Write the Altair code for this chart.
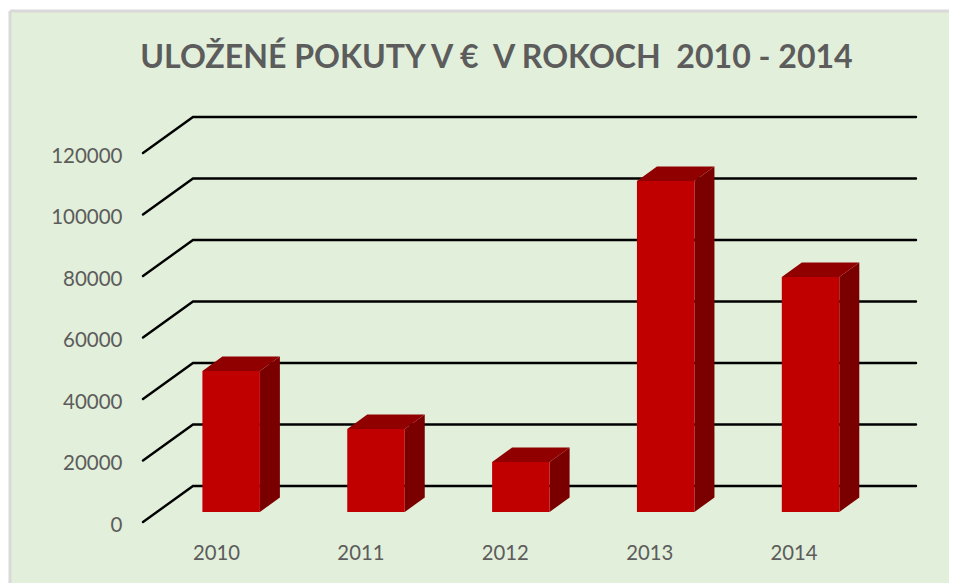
import altair as alt
import pandas as pd

# ---- values
years = [2010, 2011, 2012, 2013, 2014]
fines = [45850, 26990, 16260, 107640, 76420]
grid_values = [0, 20000, 40000, 60000, 80000, 100000, 120000]
title_text = "ULOŽENÉ POKUTY V €\u00a0 V ROKOCH\u00a0 2010 - 2014"

# ---- scale geometry: x in category units, y in euro units
PX_X = 144.4
PX_Y = 325.2
W, H = 939, 572
X_DOMAIN = [(10 - 217) / PX_X, (949 - 217) / PX_X]
Y_DOMAIN = [-(583 - 522) * PX_Y, (522 - 11) * PX_Y]
GREEN, GREY, BORDER = "#E2EFDA", "#5C5C5C", "#D9D9D9"
FONT = "Lato"

# depth of the floor and of the bars, expressed in axis units
floor_dx, floor_dy = 50 / PX_X, 36 * PX_Y
floor_start, floor_end = (143 - 217) / PX_X, (916 - 217) / PX_X
bar_base = 10 * PX_Y
bar_left, bar_right = (202.4 - 217) / PX_X, (259.9 - 217) / PX_X
bar_step = 144.85 / PX_X
bar_dx, bar_dy = 20 / PX_X, 14.6 * PX_Y

grid_rows = []
for v in grid_values:
    grid_rows += [
        dict(v=v, i=0, x=floor_start, y=v),
        dict(v=v, i=1, x=floor_start + floor_dx, y=v + floor_dy),
        dict(v=v, i=2, x=floor_end, y=v + floor_dy),
    ]

front_rows, side_rows, top_rows = [], [], []
for i, (yr, val) in enumerate(zip(years, fines)):
    l, r = i * bar_step + bar_left, i * bar_step + bar_right
    b, t = bar_base, bar_base + val
    front_rows.append(dict(year=yr, x=l, x2=r, y=b, y2=t))
    side_rows += [
        dict(year=yr, x=r, y=b, y2=t),
        dict(year=yr, x=r + bar_dx, y=b + bar_dy, y2=t + bar_dy),
    ]
    top_rows += [
        dict(year=yr, y=t, x=l, x2=r),
        dict(year=yr, y=t + bar_dy, x=l + bar_dx, x2=r + bar_dx),
    ]

x_scale = alt.Scale(domain=X_DOMAIN, nice=False, zero=False)
y_scale = alt.Scale(domain=Y_DOMAIN, nice=False, zero=False)
x_axis = alt.Axis(
    values=list(range(len(years))), labelExpr="datum.value + 2010", title=None,
    grid=False, domain=False, ticks=False, labelFont=FONT, labelFontSize=20.3,
    labelColor=GREY, labelPadding=0, offset=-40, labelOffset=-1,
    labelOverlap=False, labelFlush=False)
y_axis = alt.Axis(
    values=grid_values, format="d", title=None,
    grid=False, domain=False, ticks=False, labelFont=FONT, labelFontSize=20.5,
    labelColor=GREY, labelPadding=0, offset=-112, labelOffset=3.5, labelOverlap=False)
X = alt.X("x:Q", scale=x_scale, axis=x_axis)
Y = alt.Y("y:Q", scale=y_scale, axis=y_axis)

grid = alt.Chart(pd.DataFrame(grid_rows)).mark_line(
    color="#000000", strokeWidth=2.4, strokeCap="round", strokeJoin="miter"
).encode(x=X, y=Y, detail="v:N", order="i:Q")

side = alt.Chart(pd.DataFrame(side_rows)).mark_area(color="#7A0000", interpolate="linear").encode(
    x=X, y=Y, y2="y2:Q", detail="year:N"
)
top = alt.Chart(pd.DataFrame(top_rows)).mark_area(color="#900000", orient="horizontal", interpolate="linear").encode(
    y=Y, x=X, x2="x2:Q", detail="year:N"
)
front = alt.Chart(pd.DataFrame(front_rows)).mark_bar(color="#C00000").encode(
    x=X, x2="x2:Q", y=Y, y2="y2:Q"
)

marker = pd.DataFrame({"k": [0]})
border_top = alt.Chart(marker).mark_rule(color=BORDER, strokeWidth=3).encode(
    x=alt.value(0), x2=alt.value(W), y=alt.value(0)
)
border_left = alt.Chart(marker).mark_rule(color=BORDER, strokeWidth=3).encode(
    x=alt.value(0), y=alt.value(0), y2=alt.value(H)
)

chart = (
    alt.layer(grid, side, top, front, border_top, border_left)
    .properties(
        width=W,
        height=H,
        autosize=alt.AutoSizeParams(type="none"),
        padding={"left": 2, "top": 3, "right": 0, "bottom": 0},
        background="#FFFFFF",
        title=alt.TitleParams(
            text=title_text, anchor="middle", offset=-66, dx=17,
            font=FONT, fontSize=32.1, fontWeight="bold", color=GREY,
        ),
    )
    .configure_view(stroke=None, fill=GREEN)
)

chart.save("out.html", embed_options={"renderer": "svg", "actions": False})
